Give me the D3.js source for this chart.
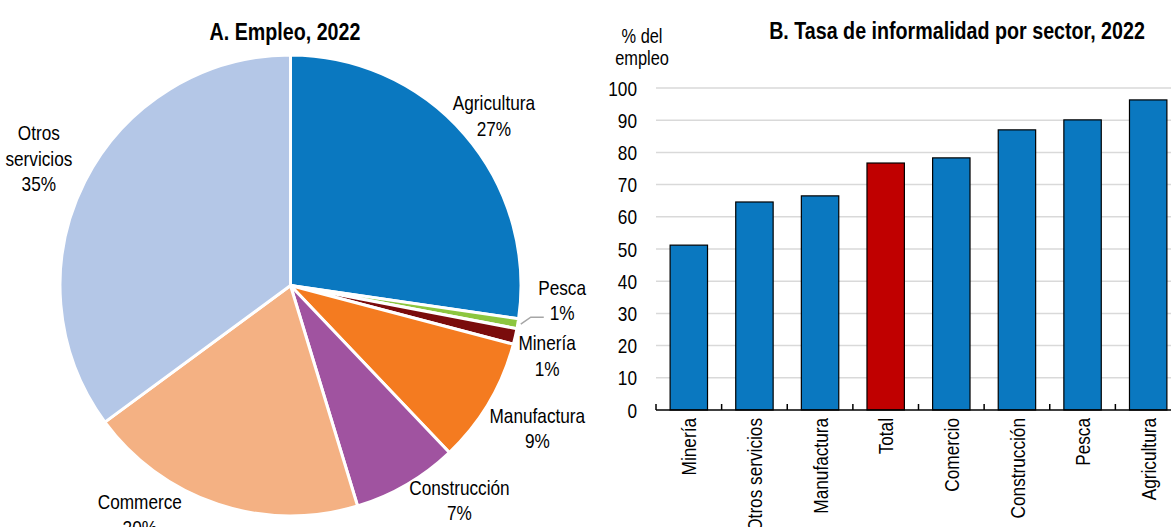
<!DOCTYPE html>
<html>
<head>
<meta charset="utf-8">
<script src="https://cdn.jsdelivr.net/npm/d3@7"></script>
<style>
  body { margin: 0; background: #fff; }
  svg { display: block; }
</style>
</head>
<body>
<svg id="chart" width="1171" height="527"></svg>
<script>
// Panel A: employment shares (%)
const pieSectors = ['Agricultura', 'Pesca', 'Minería', 'Manufactura', 'Construcción', 'Commerce', 'Otros servicios'];
const pieValues = [27.3, 0.7, 1.1, 8.8, 7.4, 19.6, 35.1];
const pieLabels = ['27%', '1%', '1%', '9%', '7%', '20%', '35%'];

// Panel B: informality rate by sector (% of employment)
const barSectors = ['Minería', 'Otros servicios', 'Manufactura', 'Total', 'Comercio', 'Construcción', 'Pesca', 'Agricultura'];
const barValues = [51.2, 64.6, 66.5, 76.7, 78.3, 87.0, 90.1, 96.3];
const yTicks = [0, 10, 20, 30, 40, 50, 60, 70, 80, 90, 100];

const pieColors = ['#0a78c0', '#8cc63f', '#7a0c0c', '#f47b20', '#a053a0', '#f4b183', '#b4c7e7'];
const blue = '#0a78c0';
const red = '#c00000';

const svg = d3.select('#chart');

// pick a condensed face if there is one, otherwise squeeze Liberation Sans
function textWidth(family) {
  const t = svg.append('text').attr('font-family', family).attr('font-size', 100).text('Manufactura 0123');
  const w = t.node().getComputedTextLength();
  t.remove();
  return w;
}
const hasNarrow = textWidth('"Liberation Sans Narrow", monospace') === textWidth('"Liberation Sans Narrow", serif');
const family = hasNarrow ? '"Liberation Sans Narrow", "Arial Narrow", sans-serif' : '"Liberation Sans", Arial, sans-serif';
const sx = hasNarrow ? 1 : 0.82;

function label(parent, x, y, str, opts = {}) {
  const rot = opts.rotate ? ` rotate(${opts.rotate})` : '';
  return parent.append('text')
    .attr('transform', `translate(${x},${y})${rot} scale(${sx},1)`)
    .attr('font-family', family)
    .attr('font-size', opts.size || 21)
    .attr('font-weight', opts.bold ? 'bold' : null)
    .attr('text-anchor', opts.anchor || 'middle')
    .attr('dy', opts.dy || null)
    .attr('fill', '#000')
    .text(str);
}

// ---------- Panel A: pie ----------
const cx = 290.5, cy = 285.5, R = 230.5;
label(svg, 285, 40, 'A. Empleo, 2022', { size: 24, bold: true });

const pie = d3.pie().sort(null).value(d => d);
const arcs = pie(pieValues);
const arc = d3.arc().innerRadius(0).outerRadius(R);

const gPie = svg.append('g').attr('transform', `translate(${cx},${cy})`);
gPie.selectAll('path')
  .data(arcs)
  .join('path')
  .attr('d', arc)
  .attr('fill', (d, i) => pieColors[i])
  .attr('stroke', '#fff')
  .attr('stroke-width', 3)
  .attr('stroke-linejoin', 'round');

// label placement: radius and angle nudge (degrees) from the slice middle
const labelPlace = [
  { r: 265, da: 1 },
  { r: 272, da: -6.5 },
  { r: 266, da: 2.5 },
  { r: 285, da: -0.6 },
  { r: 273, da: -8 },
  { r: 274, da: 15 },
  { r: 282, da: 0 },
];
const lineH = 25.5;
arcs.forEach((d, i) => {
  const mid = (d.startAngle + d.endAngle) / 2 + labelPlace[i].da * Math.PI / 180;
  const lx = labelPlace[i].r * Math.sin(mid);
  const ly = -labelPlace[i].r * Math.cos(mid);
  const lines = pieSectors[i] === 'Otros servicios' ? ['Otros', 'servicios', pieLabels[i]] : [pieSectors[i], pieLabels[i]];
  lines.forEach((s, j) => {
    label(gPie, lx, ly - (lines.length - 1) * lineH / 2 + j * lineH + 7.5, s);
  });
});

// leader line for the thin Pesca slice
const pesca = arcs[1];
const pm = (pesca.startAngle + pesca.endAngle) / 2;
const p0 = [(R + 3) * Math.sin(pm), -(R + 3) * Math.cos(pm)];
const p1 = [p0[0] + 10, p0[1] - 7];
const p2 = [p1[0] + 13, p1[1]];
gPie.append('path')
  .attr('d', d3.line()([p0, p1, p2]))
  .attr('fill', 'none')
  .attr('stroke', '#a6a6a6')
  .attr('stroke-width', 1.5);

// ---------- Panel B: bars ----------
const x0 = 656, x1 = 1181;
const x = d3.scaleBand()
  .domain(barSectors)
  .range([x0, x1])
  .paddingInner(0.43)
  .paddingOuter(0.215);
const y = d3.scaleLinear().domain([0, 100]).range([410, 88]);

label(svg, 957, 39, 'B. Tasa de informalidad por sector, 2022', { size: 24, bold: true });
label(svg, 642, 43, '% del', { size: 20 });
label(svg, 642, 65, 'empleo', { size: 20 });

const gBar = svg.append('g');

gBar.selectAll('line.grid')
  .data(yTicks.filter(t => t > 0))
  .join('line')
  .attr('class', 'grid')
  .attr('x1', x0)
  .attr('x2', 1171)
  .attr('y1', d => y(d))
  .attr('y2', d => y(d))
  .attr('stroke', '#d9d9d9')
  .attr('stroke-width', 1.5);

yTicks.forEach(t => label(gBar, 637, y(t), t, { anchor: 'end', dy: '0.36em' }));

gBar.selectAll('rect')
  .data(barValues)
  .join('rect')
  .attr('x', (d, i) => x(barSectors[i]))
  .attr('y', d => y(d))
  .attr('width', x.bandwidth())
  .attr('height', d => y(0) - y(d))
  .attr('fill', (d, i) => barSectors[i] === 'Total' ? red : blue)
  .attr('stroke', '#000')
  .attr('stroke-width', 1.2);

// baseline and category boundary ticks
gBar.append('line')
  .attr('x1', x0).attr('x2', 1171)
  .attr('y1', y(0)).attr('y2', y(0))
  .attr('stroke', '#000').attr('stroke-width', 1.5);

gBar.selectAll('line.tick')
  .data(barSectors)
  .join('line')
  .attr('class', 'tick')
  .attr('x1', (d, i) => x0 + i * x.step())
  .attr('x2', (d, i) => x0 + i * x.step())
  .attr('y1', y(0))
  .attr('y2', y(0) - 6)
  .attr('stroke', '#000').attr('stroke-width', 1.5);

barSectors.forEach(s => {
  label(gBar, x(s) + x.bandwidth() / 2, 418, s, { anchor: 'end', rotate: -90, dy: '0.36em' });
});
</script>
</body>
</html>
